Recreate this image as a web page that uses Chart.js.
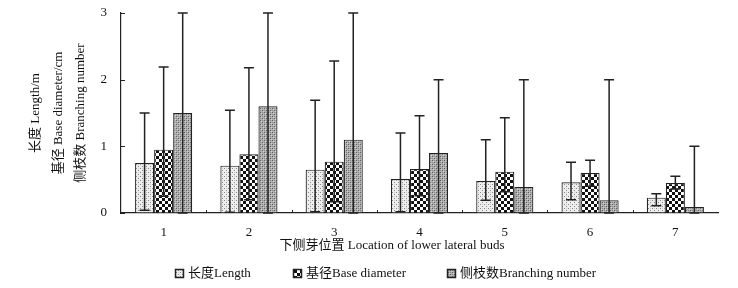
<!DOCTYPE html>
<html>
<head>
<meta charset="utf-8">
<script src="https://cdn.jsdelivr.net/npm/chart.js@4/dist/chart.umd.min.js"></script>
<style>
  html, body { margin: 0; padding: 0; background: #fff; }
</style>
</head>
<body>
<canvas id="budChart" width="738" height="288"></canvas>
<script>
// categories: location of lower lateral buds
const categories = ['1', '2', '3', '4', '5', '6', '7'];

// 长度 Length/m
const lengthMean = [0.75, 0.71, 0.65, 0.51, 0.48, 0.46, 0.23];
const lengthLow  = [0.04, 0.01, 0.02, 0.02, 0.19, 0.20, 0.11];
const lengthHigh = [1.50, 1.54, 1.69, 1.20, 1.10, 0.76, 0.29];

// 基径 Base diameter/cm
const baseMean = [0.95, 0.88, 0.77, 0.66, 0.62, 0.60, 0.45];
const baseLow  = [0.25, 0.20, 0.17, 0.26, 0.32, 0.40, 0.36];
const baseHigh = [2.19, 2.18, 2.28, 1.46, 1.43, 0.79, 0.55];

// 侧枝数 Branching number
const branchMean = [1.50, 1.60, 1.10, 0.90, 0.39, 0.19, 0.09];
const branchLow  = [0, 0, 0, 0, 0, 0, 0];
const branchHigh = [3.0, 3.0, 3.0, 2.0, 2.0, 2.0, 1.0];

const yTicks = [0, 1, 2, 3];
const seriesNames = ['长度Length', '基径Base diameter', '侧枝数Branching number'];

const FONT = '"Liberation Serif", "Noto Sans CJK SC", serif';

// fill patterns like the printed figure
function makePattern(size, bg, draw) {
    const c = document.createElement('canvas');
    c.width = size; c.height = size;
    const g = c.getContext('2d');
    g.fillStyle = bg;
    g.fillRect(0, 0, size, size);
    draw(g);
    return g.createPattern(c, 'repeat');
}
const ctx = document.getElementById('budChart').getContext('2d');
const dotPattern = makePattern(4, '#eeeeee', g => {
    g.fillStyle = '#8a8a8a';
    g.fillRect(0, 0, 1, 1);
    g.fillRect(2, 2, 1, 1);
    g.fillStyle = '#cfcfcf';
    g.fillRect(2, 0, 1, 1);
});
const checkPattern = makePattern(6, '#ffffff', g => {
    g.fillStyle = '#111';
    g.fillRect(0, 0, 3, 3);
    g.fillRect(3, 3, 3, 3);
});
const greyPattern = makePattern(4, '#b0b0b0', g => {
    g.fillStyle = '#5e5e5e';
    g.fillRect(0, 0, 1, 1);
    g.fillRect(2, 2, 1, 1);
    g.fillStyle = '#8c8c8c';
    g.fillRect(2, 0, 1, 1);
    g.fillRect(0, 2, 1, 1);
    g.fillStyle = '#d0d0d0';
    g.fillRect(1, 1, 1, 1);
    g.fillRect(3, 3, 1, 1);
});

const errLows = [lengthLow, baseLow, branchLow];
const errHighs = [lengthHigh, baseHigh, branchHigh];
const patterns = [dotPattern, checkPattern, greyPattern];

const errorBars = {
    id: 'errorBars',
    afterDatasetsDraw(chart) {
        const y = chart.scales.y;
        const c = chart.ctx;
        c.save();
        c.strokeStyle = '#222';
        c.lineWidth = 1.5;
        chart.data.datasets.forEach((ds, i) => {
            const meta = chart.getDatasetMeta(i);
            meta.data.forEach((bar, j) => {
                const top = y.getPixelForValue(errHighs[i][j]);
                const bot = y.getPixelForValue(errLows[i][j]);
                c.beginPath();
                c.moveTo(bar.x, top); c.lineTo(bar.x, bot);
                c.moveTo(bar.x - 5, top); c.lineTo(bar.x + 5, top);
                c.moveTo(bar.x - 5, bot); c.lineTo(bar.x + 5, bot);
                c.stroke();
            });
        });
        c.restore();
    },
    afterDraw(chart) {
        const c = chart.ctx;
        const x = chart.scales.x, y = chart.scales.y;
        const area = chart.chartArea;
        c.save();
        c.strokeStyle = '#222';
        c.lineWidth = 1;
        // inward ticks on the y axis
        yTicks.forEach(v => {
            const py = Math.round(y.getPixelForValue(v)) + 0.5;
            c.beginPath();
            c.moveTo(area.left, py); c.lineTo(area.left + 4, py);
            c.stroke();
        });
        // small ticks between categories
        for (let i = 0; i < categories.length - 1; i++) {
            const px = Math.round((x.getPixelForValue(i) + x.getPixelForValue(i + 1)) / 2) + 0.5;
            c.beginPath();
            c.moveTo(px, area.bottom); c.lineTo(px, area.bottom - 3);
            c.stroke();
        }
        // x axis title
        c.fillStyle = '#111';
        c.font = '13px ' + FONT;
        c.textAlign = 'center';
        c.textBaseline = 'middle';
        c.fillText('下侧芽位置 Location of lower lateral buds', 392, 246);
        // legend
        const starts = [175, 293, 447];
        c.textAlign = 'left';
        seriesNames.forEach((name, i) => {
            const bx = starts[i], by = 269;
            c.fillStyle = patterns[i];
            c.fillRect(bx, by, 9, 9);
            c.lineWidth = 1.5;
            c.strokeRect(bx + 0.5, by + 0.5, 8, 8);
            c.fillStyle = '#111';
            c.fillText(name, bx + 13, by + 5);
        });
        c.restore();
    }
};

new Chart(ctx, {
    type: 'bar',
    data: {
        labels: categories,
        datasets: [
            { label: seriesNames[0], data: lengthMean, backgroundColor: dotPattern },
            { label: seriesNames[1], data: baseMean, backgroundColor: checkPattern },
            { label: seriesNames[2], data: branchMean, backgroundColor: greyPattern }
        ].map(d => Object.assign(d, {
            borderColor: '#222',
            borderWidth: 1.2,
            categoryPercentage: 0.67,
            barPercentage: 1.0
        }))
    },
    options: {
        responsive: false,
        devicePixelRatio: 1,
        animation: false,
        layout: { autoPadding: false, padding: { top: 13, right: 20, left: 0, bottom: 0 } },
        plugins: {
            legend: { display: false },
            tooltip: { enabled: false }
        },
        scales: {
            x: {
                grid: { display: true, drawOnChartArea: false, drawTicks: false },
                border: { display: true, color: '#222', width: 1.2 },
                ticks: { color: '#111', font: { family: FONT, size: 13 }, padding: 12 },
                afterFit: s => { s.height = 75; }
            },
            y: {
                min: 0,
                max: 3,
                // transparent tick marks only push the labels away from the axis
                grid: { display: true, drawOnChartArea: false, drawTicks: true, tickLength: 10, tickColor: 'rgba(0,0,0,0)' },
                border: { display: true, color: '#222', width: 1.2 },
                ticks: {
                    stepSize: 1,
                    color: '#111',
                    padding: 4,
                    font: { family: FONT, size: 13 }
                },
                title: {
                    display: true,
                    text: ['长度 Length/m', '基径 Base diameter/cm', '侧枝数 Branching number'],
                    color: '#111',
                    font: { family: FONT, size: 13, lineHeight: 1.7 },
                    padding: { top: 25, bottom: 0 }
                },
                afterFit: s => { s.width = 121; }
            }
        }
    },
    plugins: [errorBars]
});
</script>
</body>
</html>
